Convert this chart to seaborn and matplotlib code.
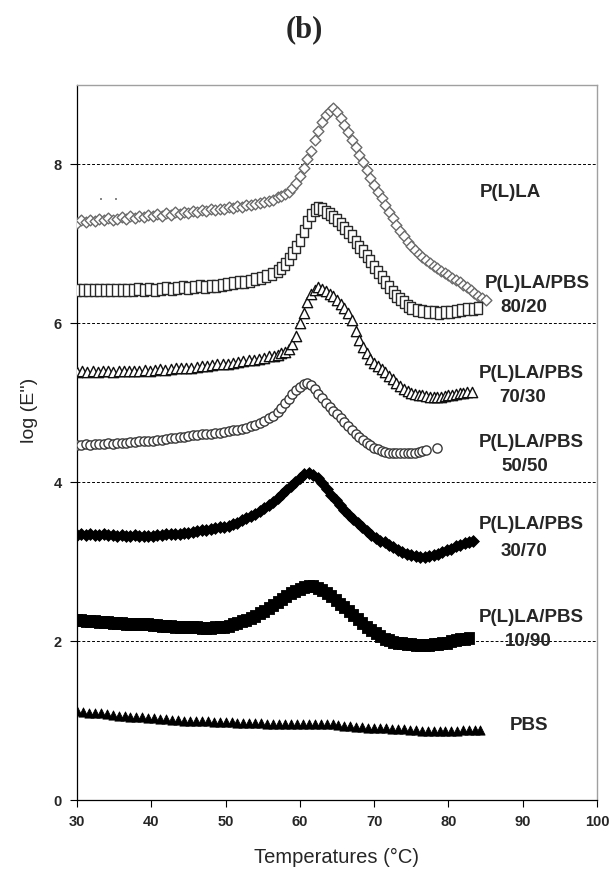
import matplotlib
matplotlib.use("Agg")
import matplotlib.pyplot as plt
import seaborn as sns
import pandas as pd

# ---------------- data ----------------
plla_x = [30.0, 30.6, 31.2, 31.8, 32.4, 33.0, 33.6, 34.2, 34.8, 35.4, 36.0, 36.6, 37.2, 37.8, 38.4,
          39.0, 39.6, 40.2, 40.8, 41.4, 42.0, 42.6, 43.2, 43.8, 44.4, 45.0, 45.6, 46.2, 46.8, 47.4,
          48.0, 48.6, 49.2, 49.8, 50.4, 51.0, 51.6, 52.2, 52.8, 53.4, 54.0, 54.6, 55.2, 55.8, 56.4,
          57.0, 57.5, 58.0, 58.5, 59.0, 59.5, 60.0, 60.5, 61.0, 61.5, 62.0, 62.5, 63.0, 63.5, 64.0,
          64.5, 65.0, 65.5, 66.0, 66.5, 67.0, 67.5, 68.0, 68.5, 69.0, 69.5, 70.0, 70.5, 71.0, 71.5,
          72.0, 72.5, 73.0, 73.5, 74.0, 74.5, 75.0, 75.5, 76.0, 76.5, 77.0, 77.5, 78.0, 78.5, 79.0,
          79.5, 80.0, 80.5, 81.0, 81.5, 82.0, 82.5, 83.0, 83.5, 84.0, 84.5, 85.0]
plla_y = [7.26, 7.29, 7.27, 7.30, 7.28, 7.31, 7.29, 7.32, 7.30, 7.31, 7.33, 7.31, 7.34, 7.32, 7.35,
          7.33, 7.36, 7.34, 7.37, 7.35, 7.38, 7.36, 7.39, 7.37, 7.40, 7.38, 7.41, 7.39, 7.42, 7.41,
          7.43, 7.42, 7.44, 7.43, 7.46, 7.45, 7.47, 7.46, 7.49, 7.48, 7.50, 7.51, 7.52, 7.54, 7.55,
          7.58, 7.60, 7.62, 7.65, 7.70, 7.76, 7.85, 7.95, 8.06, 8.16, 8.30, 8.42, 8.53, 8.62, 8.67,
          8.70, 8.65, 8.58, 8.49, 8.40, 8.30, 8.21, 8.11, 8.02, 7.92, 7.82, 7.73, 7.65, 7.57, 7.48,
          7.40, 7.32, 7.23, 7.16, 7.09, 7.02, 6.97, 6.92, 6.87, 6.83, 6.79, 6.75, 6.72, 6.69, 6.66,
          6.63, 6.60, 6.57, 6.54, 6.51, 6.48, 6.45, 6.41, 6.38, 6.34, 6.31, 6.29]

b8020_x = [30.0, 30.75, 31.5, 32.25, 33.0, 33.75, 34.5, 35.25, 36.0, 36.75, 37.5, 38.25, 39.0, 39.75,
           40.5, 41.25, 42.0, 42.75, 43.5, 44.25, 45.0, 45.75, 46.5, 47.25, 48.0, 48.75, 49.5, 50.25,
           51.0, 51.75, 52.5, 53.25, 54.0, 54.75, 55.5, 56.25, 57.0, 57.5, 58.0, 58.5, 59.0, 59.5,
           60.0, 60.5, 61.0, 61.5, 62.0, 62.5, 63.0, 63.5, 64.0, 64.5, 65.0, 65.5, 66.0, 66.5, 67.0,
           67.5, 68.0, 68.5, 69.0, 69.5, 70.0, 70.5, 71.0, 71.5, 72.0, 72.5, 73.0, 73.5, 74.0, 74.5,
           75.0, 75.75, 76.5, 77.25, 78.0, 78.75, 79.5, 80.25, 81.0, 81.75, 82.5, 83.25, 84.0]
b8020_y = [6.42, 6.42, 6.41, 6.42, 6.42, 6.41, 6.42, 6.42, 6.41, 6.42, 6.42, 6.43, 6.42, 6.43,
           6.42, 6.43, 6.44, 6.43, 6.44, 6.45, 6.44, 6.45, 6.46, 6.45, 6.47, 6.47, 6.48, 6.49,
           6.50, 6.51, 6.52, 6.53, 6.55, 6.57, 6.59, 6.62, 6.65, 6.69, 6.74, 6.80, 6.88, 6.96,
           7.04, 7.16, 7.27, 7.36, 7.42, 7.45, 7.44, 7.40, 7.37, 7.33, 7.29, 7.24, 7.20, 7.15, 7.09,
           7.02, 6.96, 6.90, 6.84, 6.78, 6.71, 6.64, 6.58, 6.52, 6.45, 6.39, 6.34, 6.30, 6.26, 6.22,
           6.19, 6.16, 6.15, 6.14, 6.14, 6.13, 6.14, 6.14, 6.15, 6.16, 6.17, 6.18, 6.19]

b7030_x = [30.0, 30.7, 31.4, 32.1, 32.8, 33.5, 34.2, 34.9, 35.6, 36.3, 37.0, 37.7, 38.4, 39.1, 39.8,
           40.5, 41.2, 41.9, 42.6, 43.3, 44.0, 44.7, 45.4, 46.1, 46.8, 47.5, 48.2, 48.9, 49.6, 50.3,
           51.0, 51.7, 52.4, 53.1, 53.8, 54.5, 55.2, 55.9, 56.5, 57.0, 57.5, 58.0, 58.5, 59.0, 59.5,
           60.0, 60.5, 61.0, 61.5, 62.0, 62.5, 63.0, 63.5, 64.0, 64.5, 65.0, 65.5, 66.0, 66.5, 67.0,
           67.5, 68.0, 68.5, 69.0, 69.5, 70.0, 70.5, 71.0, 71.5, 72.0, 72.5, 73.0, 73.5, 74.0, 74.5,
           75.0, 75.5, 76.0, 76.5, 77.0, 77.5, 78.0, 78.5, 79.0, 79.5, 80.0, 80.5, 81.0, 81.5, 82.0,
           82.5, 83.2]
b7030_y = [5.38, 5.39, 5.38, 5.39, 5.38, 5.39, 5.39, 5.38, 5.39, 5.40, 5.39, 5.40, 5.40, 5.41, 5.40,
           5.41, 5.42, 5.41, 5.42, 5.43, 5.43, 5.44, 5.44, 5.45, 5.46, 5.46, 5.47, 5.48, 5.48, 5.49,
           5.50, 5.51, 5.52, 5.53, 5.54, 5.55, 5.56, 5.58, 5.59, 5.60, 5.62, 5.64, 5.67, 5.73, 5.84,
           6.00, 6.12, 6.26, 6.36, 6.41, 6.45, 6.43, 6.40, 6.37, 6.34, 6.29, 6.24, 6.19, 6.13, 6.04,
           5.90, 5.79, 5.70, 5.62, 5.55, 5.50, 5.46, 5.42, 5.38, 5.33, 5.29, 5.25, 5.21, 5.17, 5.14,
           5.12, 5.11, 5.10, 5.09, 5.08, 5.07, 5.07, 5.07, 5.07, 5.08, 5.09, 5.10, 5.11, 5.12, 5.12,
           5.13, 5.13]

b5050_x = [30.0, 30.6, 31.2, 31.8, 32.4, 33.0, 33.6, 34.2, 34.8, 35.4, 36.0, 36.6, 37.2, 37.8, 38.4,
           39.0, 39.6, 40.2, 40.8, 41.4, 42.0, 42.6, 43.2, 43.8, 44.4, 45.0, 45.6, 46.2, 46.8, 47.4,
           48.0, 48.6, 49.2, 49.8, 50.4, 51.0, 51.6, 52.2, 52.8, 53.4, 54.0, 54.6, 55.2, 55.8, 56.4,
           57.0, 57.5, 58.0, 58.5, 59.0, 59.5, 60.0, 60.5, 61.0, 61.5, 62.0, 62.5, 63.0, 63.5, 64.0,
           64.5, 65.0, 65.5, 66.0, 66.5, 67.0, 67.5, 68.0, 68.5, 69.0, 69.5, 70.0, 70.5, 71.0, 71.5,
           72.0, 72.5, 73.0, 73.5, 74.0, 74.5, 75.0, 75.5, 76.0, 76.5, 77.0, 78.4]
b5050_y = [4.47, 4.47, 4.48, 4.47, 4.48, 4.48, 4.48, 4.49, 4.48, 4.49, 4.49, 4.49, 4.50, 4.50, 4.51,
           4.51, 4.52, 4.52, 4.53, 4.53, 4.54, 4.55, 4.55, 4.56, 4.57, 4.58, 4.59, 4.59, 4.60, 4.61,
           4.61, 4.62, 4.62, 4.63, 4.64, 4.65, 4.66, 4.67, 4.68, 4.70, 4.72, 4.74, 4.77, 4.80, 4.83,
           4.88, 4.93, 4.99, 5.05, 5.11, 5.16, 5.20, 5.23, 5.24, 5.22, 5.17, 5.11, 5.06, 5.00, 4.94,
           4.89, 4.85, 4.81, 4.76, 4.71, 4.66, 4.61, 4.57, 4.53, 4.49, 4.46, 4.43, 4.41, 4.39, 4.38,
           4.37, 4.36, 4.36, 4.36, 4.36, 4.36, 4.37, 4.37, 4.38, 4.39, 4.40, 4.43]

b3070_x = [30.0, 30.6, 31.2, 31.8, 32.4, 33.0, 33.6, 34.2, 34.8, 35.4, 36.0, 36.6, 37.2, 37.8, 38.4,
           39.0, 39.6, 40.2, 40.8, 41.4, 42.0, 42.6, 43.2, 43.8, 44.4, 45.0, 45.6, 46.2, 46.8, 47.4,
           48.0, 48.6, 49.2, 49.8, 50.4, 51.0, 51.6, 52.2, 52.8, 53.4, 54.0, 54.6, 55.2, 55.8, 56.4,
           57.0, 57.6, 58.2, 58.8, 59.4, 60.0, 60.6, 61.2, 61.8, 62.4, 63.0, 63.6, 64.2, 64.8, 65.4,
           66.0, 66.6, 67.2, 67.8, 68.4, 69.0, 69.6, 70.2, 70.8, 71.4, 72.0, 72.6, 73.2, 73.8, 74.4,
           75.0, 75.6, 76.2, 76.8, 77.4, 78.0, 78.6, 79.2, 79.8, 80.4, 81.0, 81.6, 82.2, 82.8, 83.3]
b3070_y = [3.33, 3.34, 3.33, 3.34, 3.33, 3.33, 3.34, 3.33, 3.33, 3.32, 3.33, 3.32, 3.32, 3.33, 3.32,
           3.32, 3.32, 3.32, 3.33, 3.33, 3.34, 3.34, 3.35, 3.35, 3.36, 3.36, 3.37, 3.38, 3.39, 3.40,
           3.41, 3.42, 3.43, 3.44, 3.45, 3.47, 3.49, 3.52, 3.55, 3.57, 3.60, 3.63, 3.67, 3.71, 3.75,
           3.80, 3.85, 3.90, 3.95, 4.00, 4.05, 4.10, 4.11, 4.09, 4.05, 3.99, 3.91, 3.84, 3.77, 3.71,
           3.65, 3.59, 3.53, 3.48, 3.43, 3.38, 3.33, 3.29, 3.26, 3.24, 3.21, 3.18, 3.15, 3.12, 3.10,
           3.08, 3.07, 3.06, 3.06, 3.07, 3.08, 3.10, 3.12, 3.14, 3.16, 3.19, 3.21, 3.23, 3.25, 3.26]

b1090_x = [30.0, 30.6, 31.2, 31.8, 32.4, 33.0, 33.6, 34.2, 34.8, 35.4, 36.0, 36.6, 37.2, 37.8, 38.4,
           39.0, 39.6, 40.2, 40.8, 41.4, 42.0, 42.6, 43.2, 43.8, 44.4, 45.0, 45.6, 46.2, 46.8, 47.4,
           48.0, 48.6, 49.2, 49.8, 50.4, 51.0, 51.6, 52.2, 52.8, 53.4, 54.0, 54.6, 55.2, 55.8, 56.4,
           57.0, 57.6, 58.2, 58.8, 59.4, 60.0, 60.6, 61.2, 61.8, 62.4, 63.0, 63.6, 64.2, 64.8, 65.4,
           66.0, 66.6, 67.2, 67.8, 68.4, 69.0, 69.6, 70.2, 70.8, 71.4, 72.0, 72.6, 73.2, 73.8, 74.4,
           75.0, 75.6, 76.2, 76.8, 77.4, 78.0, 78.6, 79.2, 79.8, 80.4, 81.0, 81.6, 82.2, 82.8]
b1090_y = [2.26, 2.26, 2.25, 2.25, 2.25, 2.24, 2.24, 2.24, 2.23, 2.23, 2.23, 2.22, 2.22, 2.22, 2.21,
           2.21, 2.21, 2.20, 2.20, 2.19, 2.19, 2.19, 2.18, 2.18, 2.18, 2.17, 2.17, 2.17, 2.16, 2.16,
           2.16, 2.17, 2.17, 2.18, 2.19, 2.21, 2.23, 2.25, 2.27, 2.29, 2.32, 2.35, 2.38, 2.42, 2.45,
           2.49, 2.53, 2.56, 2.60, 2.63, 2.66, 2.68, 2.69, 2.69, 2.67, 2.64, 2.61, 2.57, 2.52, 2.47,
           2.43, 2.38, 2.33, 2.28, 2.23, 2.18, 2.14, 2.10, 2.06, 2.03, 2.01, 1.99, 1.98, 1.97, 1.96,
           1.96, 1.95, 1.95, 1.95, 1.95, 1.96, 1.96, 1.97, 1.98, 2.00, 2.01, 2.02, 2.03, 2.04]

pbs_x = [30.0, 30.8, 31.6, 32.4, 33.2, 34.0, 34.8, 35.6, 36.4, 37.2, 38.0, 38.8, 39.6, 40.4, 41.2,
         42.0, 42.8, 43.6, 44.4, 45.2, 46.0, 46.8, 47.6, 48.4, 49.2, 50.0, 50.8, 51.6, 52.4, 53.2,
         54.0, 54.8, 55.6, 56.4, 57.2, 58.0, 58.8, 59.6, 60.4, 61.2, 62.0, 62.8, 63.6, 64.4, 65.2,
         66.0, 66.8, 67.6, 68.4, 69.2, 70.0, 70.8, 71.6, 72.4, 73.2, 74.0, 74.8, 75.6, 76.4, 77.2,
         78.0, 78.8, 79.6, 80.4, 81.2, 82.0, 82.8, 83.6, 84.3]
pbs_y = [1.12, 1.11, 1.10, 1.09, 1.09, 1.08, 1.07, 1.06, 1.06, 1.05, 1.05, 1.04, 1.03, 1.03, 1.02,
         1.02, 1.01, 1.01, 1.00, 1.00, 0.99, 0.99, 0.99, 0.98, 0.98, 0.98, 0.98, 0.97, 0.97, 0.97,
         0.97, 0.97, 0.96, 0.96, 0.96, 0.96, 0.96, 0.96, 0.96, 0.96, 0.96, 0.95, 0.95, 0.95, 0.94,
         0.93, 0.93, 0.92, 0.92, 0.91, 0.91, 0.90, 0.90, 0.89, 0.89, 0.89, 0.88, 0.88, 0.87, 0.87,
         0.87, 0.87, 0.87, 0.87, 0.87, 0.88, 0.88, 0.88, 0.88]

stray_x = [33.2, 35.2]
stray_y = [7.56, 7.56]

label_line1 = ["P(L)LA", "P(L)LA/PBS", "P(L)LA/PBS", "P(L)LA/PBS", "P(L)LA/PBS", "P(L)LA/PBS", "PBS"]
label_line2 = ["", "80/20", "70/30", "50/50", "30/70", "10/90", ""]
label_x1 = [88.4, 92.0, 91.1, 91.2, 91.2, 91.2, 90.8]
label_y1 = [7.64, 6.50, 5.37, 4.50, 3.46, 2.30, 0.94]
label_x2 = [None, 90.2, 90.0, 90.3, 90.2, 90.7, None]
label_y2 = [None, 6.20, 5.06, 4.19, 3.12, 1.99, None]

x_ticks = [30, 40, 50, 60, 70, 80, 90, 100]
y_ticks = [0, 2, 4, 6, 8]

# ---------------- figure ----------------
sns.set_style("white")
plt.rcParams["font.family"] = ["Liberation Sans", "DejaVu Sans"]

fig = plt.figure(figsize=(6.09, 8.71), dpi=100)
ax = fig.add_axes([77 / 609, 1 - 800 / 871, 520 / 609, (800 - 84.5) / 871])

tall_square = [(-0.75, -1), (0.75, -1), (0.75, 1), (-0.75, 1), (-0.75, -1)]

series = [
    (plla_x, plla_y, "D", 30, "white", "#6a6a6a", 1.0),
    (b8020_x, b8020_y, tall_square, 68, "white", "#2a2a2a", 1.0),
    (b7030_x, b7030_y, "^", 55, "white", "#111111", 1.0),
    (b5050_x, b5050_y, "o", 44, "white", "#3a3a3a", 1.0),
    (b3070_x, b3070_y, "D", 36, "black", "black", 0.6),
    (b1090_x, b1090_y, tall_square, 80, "black", "black", 0.6),
    (pbs_x, pbs_y, "^", 44, "black", "black", 0.6),
]

for xs, ys, mk, s, fc, ec, lw in series:
    df = pd.DataFrame({"T": xs, "E": ys})
    sns.scatterplot(data=df, x="T", y="E", marker=mk, s=s, facecolor=fc,
                    edgecolor=ec, linewidth=lw, ax=ax, zorder=3)

sns.scatterplot(x=stray_x, y=stray_y, marker="s", s=2, color="#888888",
                edgecolor="none", ax=ax, zorder=3)

ax.set_xlim(30, 100)
ax.set_ylim(0, 9)
ax.set_xticks(x_ticks)
ax.set_yticks(y_ticks)
ax.set_xticklabels([str(t) for t in x_ticks], fontsize=10.5, fontweight="bold")
ax.set_yticklabels([str(t) for t in y_ticks], fontsize=10.5, fontweight="bold")
ax.tick_params(axis="both", direction="out", length=5, width=0.8, color="black",
               bottom=True, left=True, pad=6)

ax.set_axisbelow(True)
ax.yaxis.grid(True, linestyle=(0, (3, 2)), color="black", linewidth=0.7)
ax.xaxis.grid(False)

for side in ["left", "bottom"]:
    ax.spines[side].set_color("black")
    ax.spines[side].set_linewidth(0.9)
for side in ["top", "right"]:
    ax.spines[side].set_color("#a0a0a0")
    ax.spines[side].set_linewidth(1.0)

ax.set_xlabel("")
ax.set_ylabel("")
fig.text(337 / 609, 1 - 857 / 871, "Temperatures (°C)", ha="center", va="center", fontsize=14.5)
fig.text(30 / 609, 1 - 410 / 871, "log (E'')", ha="center", va="center", fontsize=14, rotation=90)
fig.text(0.5, 1 - 30 / 871, "(b)", ha="center", va="center", fontsize=22,
         fontweight="bold", family=["Liberation Serif", "DejaVu Serif"])

for t1, x1, y1, t2, x2, y2 in zip(label_line1, label_x1, label_y1, label_line2, label_x2, label_y2):
    ax.text(x1, y1, t1, ha="center", va="center", fontsize=13.5, fontweight="bold")
    if t2:
        ax.text(x2, y2, t2, ha="center", va="center", fontsize=13.5, fontweight="bold")

fig.savefig("out.png", dpi=100)
